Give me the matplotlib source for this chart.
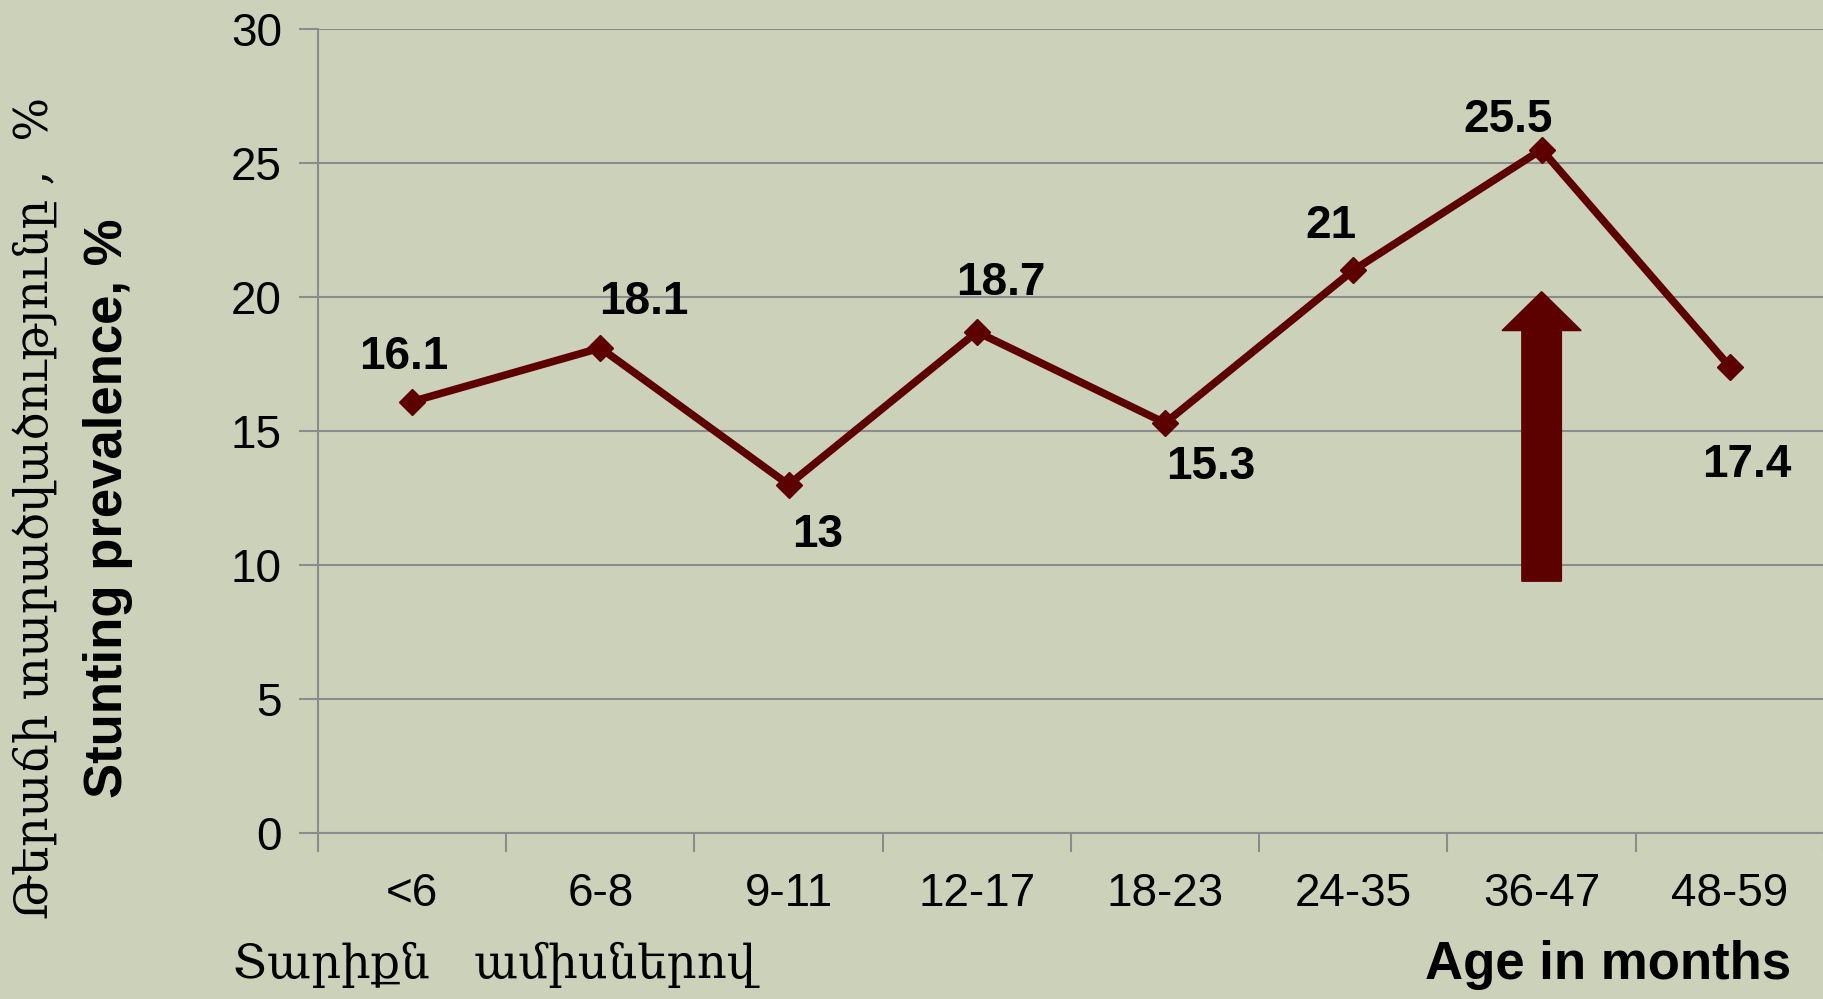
import matplotlib
matplotlib.use("Agg")
import matplotlib.pyplot as plt
from matplotlib.patches import FancyArrow

# ── data ─────────────────────────────────────────────────────────────────────
age_groups = ["<6", "6-8", "9-11", "12-17", "18-23", "24-35", "36-47", "48-59"]
stunting = [16.1, 18.1, 13, 18.7, 15.3, 21, 25.5, 17.4]
label_text = ["16.1", "18.1", "13", "18.7", "15.3", "21", "25.5", "17.4"]
y_ticks = [0, 5, 10, 15, 20, 25, 30]

# label offsets (points) from each marker
label_offsets = [(-6, 32), (31, 33), (21, -36), (17, 35),
                 (33, -32), (-16, 32), (-24, 21), (12, -71)]

BG = "#CCD1BA"
LINE = "#5C0000"
GRID = "#8C8C8C"

plt.rcParams["font.family"] = ["Liberation Sans", "DejaVu Sans"]

fig = plt.figure(figsize=(18.24, 9.99), dpi=100, facecolor=BG)
ax = fig.add_axes([318 / 1824, 0.166, 1 - 318 / 1824, 0.805])
ax.set_facecolor(BG)

x = list(range(len(age_groups)))
ax.plot(x, stunting, color=LINE, lw=5.5, marker="D", ms=13, zorder=3)

for xi, v, txt, off in zip(x, stunting, label_text, label_offsets):
    ax.annotate(txt, (xi, v), xytext=off, textcoords="offset points",
                ha="center", va="center", fontsize=33, fontweight="bold")

# the big arrow over 36-47
ax.add_patch(FancyArrow(6, 9.4, 0, 10.8, width=0.21,
                        head_width=0.42, head_length=1.45,
                        length_includes_head=True, color=LINE, zorder=4))

ax.set_xlim(-0.5, 7.5)
ax.set_ylim(0, 30)
ax.set_yticks(y_ticks)
ax.set_xticks(x)
ax.set_xticklabels(age_groups)
ax.set_xticks([i + 0.5 for i in range(-1, 8)], minor=True)
ax.tick_params(axis="y", labelsize=33, length=14, width=1.5, color=GRID, pad=12)
ax.tick_params(axis="x", which="major", labelsize=33, length=0, pad=28)
ax.tick_params(axis="x", which="minor", length=14, width=1.5, color=GRID)
ax.grid(axis="y", color=GRID, lw=1.5)
ax.set_axisbelow(True)
for s in ["top", "right"]:
    ax.spines[s].set_visible(False)
for s in ["left", "bottom"]:
    ax.spines[s].set_color(GRID)
    ax.spines[s].set_linewidth(1.5)

# axis titles
arm_font = ["DejaVu Serif", "DejaVu Sans"]
fig.text(35 / 1824, 0.491, "Թերաճի տարածվածությունը ,  %", rotation=90,
         ha="center", va="center", fontsize=33, family=arm_font)
fig.text(108 / 1824, 0.491, "Stunting prevalence, %", rotation=90,
         ha="center", va="center", fontsize=38, fontweight="bold")
fig.text(233 / 1824, 1 - 965 / 999, "Տարիքն   ամիսներով",
         ha="left", va="center", fontsize=33.5, family=arm_font)
fig.text(1791 / 1824, 1 - 965 / 999, "Age in months",
         ha="right", va="center", fontsize=38, fontweight="bold")

fig.savefig("out.png", dpi=100, facecolor=BG)
